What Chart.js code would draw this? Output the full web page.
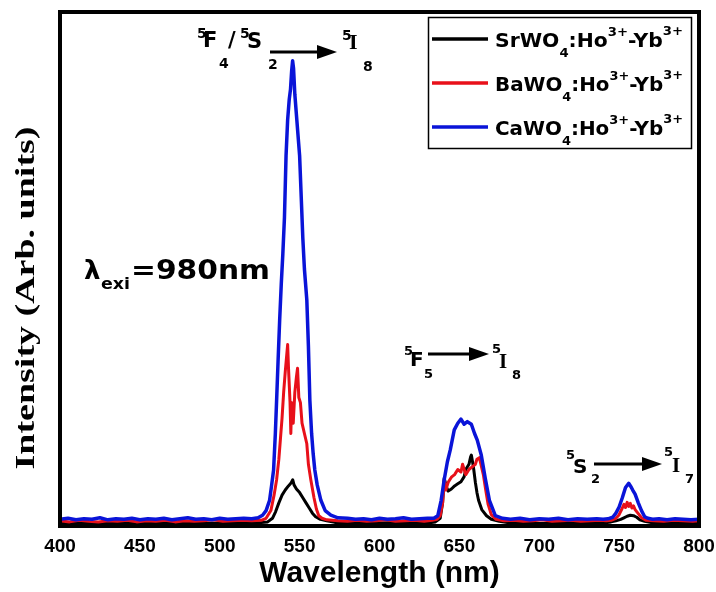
<!DOCTYPE html>
<html>
<head>
<meta charset="utf-8">
<script src="https://cdn.jsdelivr.net/npm/chart.js@4.4.0/dist/chart.umd.min.js"></script>
<style>
  html, body { margin: 0; padding: 0; background: #fff; }
</style>
</head>
<body>
<canvas id="spectrum" width="716" height="592"></canvas>
<script>
// Wavelength ticks (nm)
const wavelengthTicks = [400, 450, 500, 550, 600, 650, 700, 750, 800];

// Spectra: [wavelength (nm), intensity (arb. units, 0-100)]
const srSpectrum = [
  [400, 0.6], [410, 0.5], [420, 0.7], [430, 0.5], [440, 0.6], [450, 0.7], [460, 0.5], [470, 0.6],
  [480, 0.7], [490, 0.5], [500, 0.6], [510, 0.7], [520, 0.6], [526, 0.7], [530, 0.8], [533, 1.5],
  [535, 2.8], [537, 4.5], [539, 6.0], [541, 7.0], [543, 7.8], [544.5, 8.3], [545.7, 9.0],
  [546.5, 8.0], [548, 7.2], [550, 6.5], [552, 5.5], [554, 4.5], [556, 3.5], [558, 2.5], [560, 1.8],
  [563, 1.3], [567, 1.0], [572, 0.7], [580, 0.6], [590, 0.5], [600, 0.6], [610, 0.7],
  [620, 0.6], [630, 0.6], [635, 0.8], [638, 1.5], [639.5, 4.5], [640.5, 9.3], [642, 7.5], [643, 6.8],
  [645, 7.2], [647, 7.8], [649, 8.2], [651, 8.6], [653, 9.6], [654, 11.0], [656, 12.0], [657, 13.4],
  [657.5, 13.8], [658.5, 12.0], [659, 11.0], [660, 8.5], [661, 6.5], [662, 5.0], [664, 3.2],
  [667, 2.0], [670, 1.3], [675, 0.9], [680, 0.7], [690, 0.6], [700, 0.5], [710, 0.6], [720, 0.7],
  [730, 0.6], [740, 0.6], [745, 0.8], [748, 1.0], [751, 1.3], [753, 1.6], [755, 1.9], [757, 2.1],
  [759, 2.0], [761, 1.7], [763, 1.2], [766, 0.9], [770, 0.7], [780, 0.6], [790, 0.5], [800, 0.6]
];

const baSpectrum = [
  [400, 1.0], [406, 0.8], [412, 1.1], [418, 0.9], [424, 0.8], [430, 1.0], [436, 0.9], [442, 1.1],
  [448, 0.8], [454, 1.0], [460, 0.9], [466, 1.1], [472, 0.8], [478, 1.0], [484, 0.9], [490, 1.0],
  [496, 1.2], [502, 0.9], [508, 1.0], [514, 1.1], [520, 1.0], [526, 1.1], [529, 1.5], [532, 3.0],
  [534, 6.0], [535.6, 9.0], [537, 13.0], [538, 17.0], [539, 21.0], [540, 26.0], [541, 30.0],
  [542.5, 35.3], [543, 31.0], [544, 24.0], [544.5, 18.0], [545, 24.0], [546, 20.0], [547, 26.0],
  [548, 29.0], [548.7, 30.7], [549.5, 25.0], [550.5, 24.0], [551.5, 20.0], [553, 18.0], [554.5, 16.0],
  [555.5, 12.0], [557, 9.0], [559, 5.5], [560.5, 3.3], [562, 2.0], [564, 1.5], [567, 1.2], [574, 1.0],
  [580, 0.9], [586, 1.1], [592, 0.9], [598, 1.0], [604, 1.2], [610, 0.9], [616, 1.0], [622, 1.1],
  [628, 0.9], [633, 1.1], [636, 1.3], [638, 2.0], [639.5, 4.5], [640.5, 9.0], [641.5, 7.0],
  [643, 8.5], [645, 9.5], [647, 10.0], [649, 11.0], [651, 10.5], [652, 12.0], [654, 10.0],
  [656, 11.0], [658, 11.5], [660, 12.0], [661, 13.0], [662.5, 13.3], [663.5, 12.0], [665, 10.0],
  [666.5, 7.0], [668, 4.2], [670, 2.2], [673, 1.3], [678, 1.0], [684, 1.1], [690, 0.9], [696, 1.0],
  [702, 1.2], [708, 0.9], [714, 1.0], [720, 1.1], [726, 0.9], [732, 1.0], [738, 1.1], [742, 1.0],
  [745, 1.1], [748, 1.5], [750, 2.2], [752, 3.5], [753, 4.2], [754, 3.6], [755, 4.6], [756, 3.8],
  [757, 4.4], [758, 3.5], [759, 3.9], [760, 3.2], [762, 2.4], [764, 1.6], [767, 1.1], [772, 1.0],
  [778, 0.9], [784, 1.1], [790, 1.0], [796, 0.9], [800, 1.0]
];

const caSpectrum = [
  [400, 1.3], [405, 1.5], [410, 1.2], [415, 1.4], [420, 1.3], [425, 1.6], [430, 1.2], [435, 1.4],
  [440, 1.3], [445, 1.5], [450, 1.2], [455, 1.4], [460, 1.3], [465, 1.5], [470, 1.2], [475, 1.4],
  [480, 1.6], [485, 1.3], [490, 1.4], [495, 1.2], [500, 1.5], [505, 1.3], [510, 1.4], [515, 1.5],
  [520, 1.4], [524, 1.6], [526.8, 2.1], [529, 3.0], [531.2, 5.0], [532.5, 8.0], [533.7, 10.9],
  [534.8, 18.0], [535.6, 24.5], [536.5, 32.0], [537.5, 40.0], [538.5, 47.0], [539.5, 53.0],
  [540.5, 60.0], [541.5, 72.0], [542.5, 79.0], [543.5, 83.0], [544.3, 85.0], [545, 88.5],
  [545.6, 90.5], [546.2, 89.0], [547, 84.0], [548, 80.0], [549, 76.0], [550, 72.0], [551, 64.0],
  [552, 56.0], [553, 50.0], [554.5, 44.0], [555.5, 35.0], [556.4, 24.5], [557.5, 18.0],
  [558.5, 14.0], [559.5, 10.9], [561, 8.0], [563.3, 5.0], [566, 3.0], [569.5, 2.1], [574, 1.6],
  [580, 1.5], [585, 1.3], [590, 1.4], [595, 1.2],
  [600, 1.5], [605, 1.3], [610, 1.4], [615, 1.6], [620, 1.3], [625, 1.4], [630, 1.5], [634, 1.5],
  [636.5, 2.0], [638.6, 5.0], [640.5, 9.0], [642.5, 12.5], [644.3, 14.8], [646.8, 18.7],
  [649, 20.0], [651, 20.8], [653, 19.8], [655, 20.3], [657.5, 19.8], [659.5, 18.0], [661.2, 16.7],
  [663.7, 13.8], [666.2, 9.3], [668.8, 5.0], [672.5, 2.0], [677, 1.5], [682, 1.3], [688, 1.5],
  [694, 1.2], [700, 1.4], [706, 1.3], [712, 1.5], [718, 1.2], [724, 1.4], [730, 1.3], [736, 1.4],
  [740, 1.3], [743, 1.4], [746, 1.7], [748, 2.5], [750, 3.7], [752, 5.5], [754, 7.5], [756, 8.3],
  [757.5, 7.6], [758.5, 7.0], [760, 6.2], [762, 4.5], [764, 3.0], [766, 1.8], [768, 1.5], [771, 1.3],
  [775, 1.4], [780, 1.2], [785, 1.4], [790, 1.3], [795, 1.2], [800, 1.3]
];

const SANS = '"DejaVu Sans", Verdana, sans-serif';
const SERIF = '"Liberation Serif", "Times New Roman", serif';
const ARIAL = '"Liberation Sans", Arial, sans-serif';

// draw one piece of bold text, optionally stretched to a target width
const piece = (ctx, txt, x, y, size, fam, w) => {
  ctx.font = `bold ${size}px ${fam}`;
  const m = ctx.measureText(txt).width;
  ctx.save();
  ctx.translate(x, y);
  if (w) ctx.scale(w / m, 1);
  ctx.fillText(txt, 0, 0);
  ctx.restore();
};

// draw runs of text one after another: [text, size, dy], squeezed to width w
const flow = (ctx, x, y, runs, w) => {
  let total = 0;
  runs.forEach(r => { ctx.font = `bold ${r[1]}px ${SANS}`; total += ctx.measureText(r[0]).width; });
  ctx.save();
  ctx.translate(x, y);
  ctx.scale(w / total, 1);
  let cx = 0;
  runs.forEach(r => {
    ctx.font = `bold ${r[1]}px ${SANS}`;
    ctx.fillText(r[0], cx, r[2]);
    cx += ctx.measureText(r[0]).width;
  });
  ctx.restore();
};

const arrow = (ctx, x1, x2, y) => {
  ctx.save();
  ctx.strokeStyle = '#000';
  ctx.fillStyle = '#000';
  ctx.lineWidth = 3;
  ctx.beginPath();
  ctx.moveTo(x1, y);
  ctx.lineTo(x2 - 16, y);
  ctx.stroke();
  ctx.beginPath();
  ctx.moveTo(x2, y);
  ctx.lineTo(x2 - 20, y - 7);
  ctx.lineTo(x2 - 20, y + 7);
  ctx.closePath();
  ctx.fill();
  ctx.restore();
};

const legendItems = [
  { name: 'SrWO', color: '#000000' },
  { name: 'BaWO', color: '#e8101a' },
  { name: 'CaWO', color: '#0a14d8' }
];

const decor = {
  id: 'decor',
  afterDraw(chart) {
    const ctx = chart.ctx;
    const a = chart.chartArea;
    ctx.save();
    ctx.fillStyle = '#000';
    ctx.textBaseline = 'alphabetic';

    // frame
    ctx.strokeStyle = '#000';
    ctx.lineWidth = 4;
    ctx.strokeRect(a.left, a.top, a.right - a.left, a.bottom - a.top);

    // y axis title
    ctx.save();
    ctx.translate(34, 298);
    ctx.rotate(-Math.PI / 2);
    ctx.font = `bold 27px ${SERIF}`;
    const t = 'Intensity (Arb. units)';
    const tw = ctx.measureText(t).width;
    ctx.scale(343 / tw, 1);
    ctx.textAlign = 'center';
    ctx.fillText(t, 0, 0);
    ctx.restore();

    // legend
    ctx.lineWidth = 1.5;
    ctx.strokeRect(428.5, 17.5, 263, 131);
    legendItems.forEach((it, i) => {
      const b = 47 + i * 44;
      ctx.strokeStyle = it.color;
      ctx.lineWidth = 3.5;
      ctx.beginPath();
      ctx.moveTo(432, b - 8);
      ctx.lineTo(488, b - 8);
      ctx.stroke();
      flow(ctx, 495, b, [
        [it.name, 20, 0], ['4', 13, 10], [':Ho', 20, 0], ['3+', 13, -11],
        ['-Yb', 20, 0], ['3+', 13, -12]
      ], 188);
    });

    // 5F4/5S2 -> 5I8
    piece(ctx, '5', 197, 38, 14, SANS);
    piece(ctx, 'F', 203, 47, 21, SANS);
    piece(ctx, '4', 219, 68, 14, SANS);
    piece(ctx, '/', 228, 47, 21, SANS);
    piece(ctx, '5', 240, 38, 14, SANS);
    piece(ctx, 'S', 247, 48, 21, SANS);
    piece(ctx, '2', 268, 69, 14, SANS);
    arrow(ctx, 270, 337, 52);
    piece(ctx, '5', 342, 40, 14, SANS);
    piece(ctx, 'I', 349, 49, 22, SERIF);
    piece(ctx, '8', 363, 71, 14, SANS);

    // lambda exi
    piece(ctx, 'λ', 84, 279, 26, SANS);
    piece(ctx, 'exi', 101, 289, 16, SANS, 29);
    piece(ctx, '=980nm', 131, 279, 26, SANS, 139);

    // 5F5 -> 5I8
    piece(ctx, '5', 404, 355, 13, SANS);
    piece(ctx, 'F', 410, 366, 20, SANS);
    piece(ctx, '5', 424, 378, 13, SANS);
    arrow(ctx, 428, 489, 354);
    piece(ctx, '5', 492, 353, 13, SANS);
    piece(ctx, 'I', 499, 368, 21, SERIF);
    piece(ctx, '8', 512, 379, 13, SANS);

    // 5S2 -> 5I7
    piece(ctx, '5', 566, 459, 13, SANS);
    piece(ctx, 'S', 573, 473, 20, SANS);
    piece(ctx, '2', 591, 483, 13, SANS);
    arrow(ctx, 594, 662, 464);
    piece(ctx, '5', 664, 456, 13, SANS);
    piece(ctx, 'I', 672, 472, 21, SERIF);
    piece(ctx, '7', 685, 483, 13, SANS);

    ctx.restore();
  }
};

const toXY = (arr) => arr.map(p => ({ x: p[0], y: p[1] }));

new Chart(document.getElementById('spectrum'), {
  type: 'line',
  data: {
    datasets: [
      { label: 'SrWO4:Ho3+-Yb3+', data: toXY(srSpectrum), borderColor: '#000000', borderWidth: 3, order: 2 },
      { label: 'BaWO4:Ho3+-Yb3+', data: toXY(baSpectrum), borderColor: '#e8101a', borderWidth: 3, order: 1 },
      { label: 'CaWO4:Ho3+-Yb3+', data: toXY(caSpectrum), borderColor: '#0a14d8', borderWidth: 3.5, order: 0 }
    ]
  },
  options: {
    responsive: false,
    animation: false,
    devicePixelRatio: 1,
    layout: { padding: { top: 12, right: 17, left: 0, bottom: 0 } },
    elements: { point: { radius: 0 }, line: { tension: 0, borderJoinStyle: 'round' } },
    plugins: { legend: { display: false }, tooltip: { enabled: false } },
    scales: {
      x: {
        type: 'linear',
        min: 400,
        max: 800,
        grid: { display: false },
        border: { display: false },
        afterBuildTicks: (s) => { s.ticks = wavelengthTicks.map(v => ({ value: v })); },
        afterFit: (s) => { s.height = 66; },
        ticks: { color: '#000', padding: 1, font: { family: ARIAL, size: 19, weight: 'bold' } },
        title: {
          display: true,
          text: 'Wavelength (nm)',
          color: '#000',
          padding: { top: 0, bottom: 0 },
          font: { family: ARIAL, size: 30, weight: 'bold' }
        }
      },
      y: {
        min: 0,
        max: 100,
        grid: { display: false },
        border: { display: false },
        ticks: { display: false },
        afterFit: (s) => { s.width = 60; }
      }
    }
  },
  plugins: [decor]
});
</script>
</body>
</html>
